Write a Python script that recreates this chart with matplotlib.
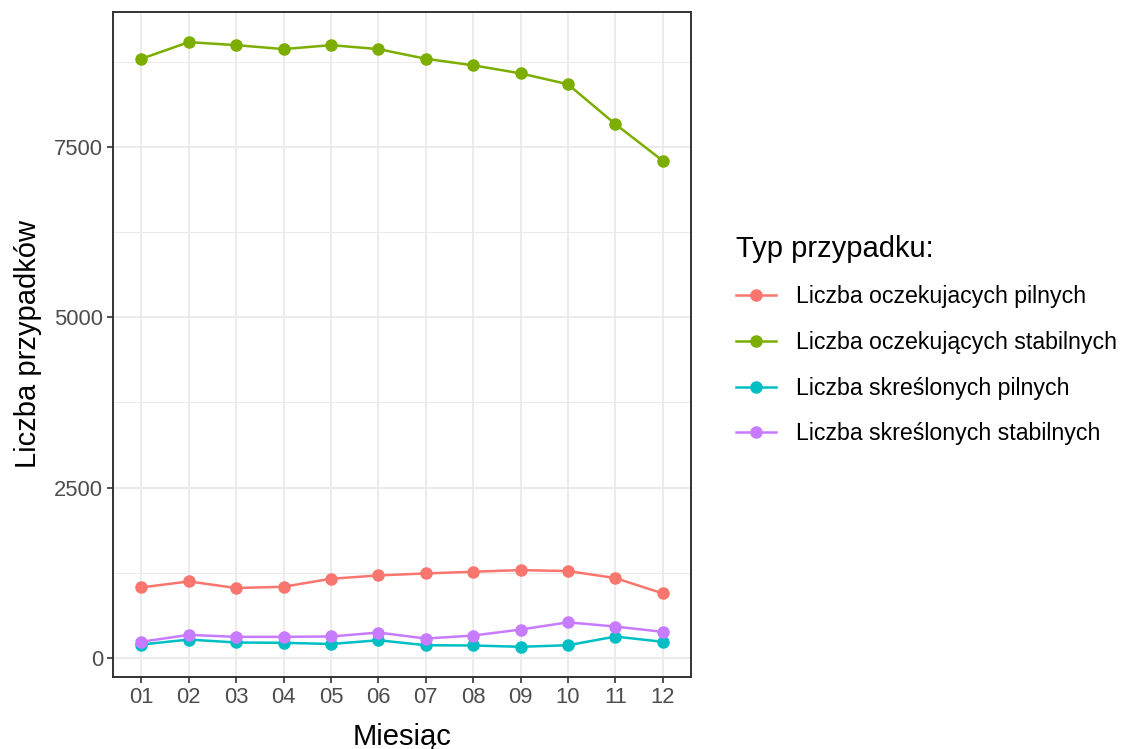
import matplotlib
matplotlib.use("Agg")
import matplotlib.pyplot as plt
import numpy as np

plt.rcParams['font.family'] = ['Liberation Sans', 'DejaVu Sans']

months = ["01", "02", "03", "04", "05", "06", "07", "08", "09", "10", "11", "12"]
oczek_pilne = [1035, 1123, 1026, 1045, 1162, 1211, 1240, 1265, 1289, 1275, 1172, 947]
oczek_stabilne = [8791, 9035, 8991, 8933, 8991, 8933, 8791, 8695, 8577, 8417, 7832, 7295]
skresl_pilne = [197, 270, 227, 222, 205, 260, 187, 183, 164, 187, 314, 237]
skresl_stabilne = [237, 339, 310, 310, 315, 373, 285, 329, 417, 523, 461, 383]

labels = ["Liczba oczekujacych pilnych", "Liczba oczekujących stabilnych",
          "Liczba skreślonych pilnych", "Liczba skreślonych stabilnych"]
colors = ["#F8766D", "#7CAE00", "#00BFC4", "#C77CFF"]
series = [oczek_pilne, oczek_stabilne, skresl_pilne, skresl_stabilne]

fig = plt.figure(figsize=(11.25, 7.49), dpi=100)
ax = fig.add_axes([0.1004, 0.0961, 0.514, 0.888])

x = np.arange(len(months))
for vals, col, lab in zip(series, colors, labels):
    ax.plot(x, vals, color=col, lw=1.8, marker="o", ms=8, label=lab, zorder=3)

allv = np.concatenate([np.array(s) for s in series])
lo, hi = allv.min(), allv.max()
pad = (hi - lo) * 0.05
ax.set_ylim(lo - pad, hi + pad)
ax.set_xlim(-0.6, len(months) - 0.4)

ax.set_xticks(x)
ax.set_xticklabels(months)
ax.set_yticks([0, 2500, 5000, 7500])
ax.set_yticks([1250, 3750, 6250, 8750], minor=True)
ax.grid(True, which="major", color="#EBEBEB", lw=1.4, zorder=0)
ax.grid(True, which="minor", axis="y", color="#EBEBEB", lw=0.7, zorder=0)
ax.set_axisbelow(True)
for s in ax.spines.values():
    s.set_color("#333333")
    s.set_linewidth(1.4)
ax.tick_params(which="major", length=4, width=1.2, color="#333333",
               labelsize=15.8, labelcolor="#4D4D4D", pad=3)
ax.tick_params(which="minor", length=0)

ax.set_xlabel("Miesiąc", fontsize=21, labelpad=11)
ax.set_ylabel("Liczba przypadków", fontsize=21, labelpad=9)

leg = ax.legend(loc="upper left", bbox_to_anchor=(0.636, 0.7147),
                bbox_transform=fig.transFigure, frameon=False,
                title="Typ przypadku:", title_fontsize=21, fontsize=16.7,
                alignment="left", labelspacing=0.98, handlelength=1.7,
                handletextpad=0.86)

fig.savefig("out.png", dpi=100, facecolor="white")
